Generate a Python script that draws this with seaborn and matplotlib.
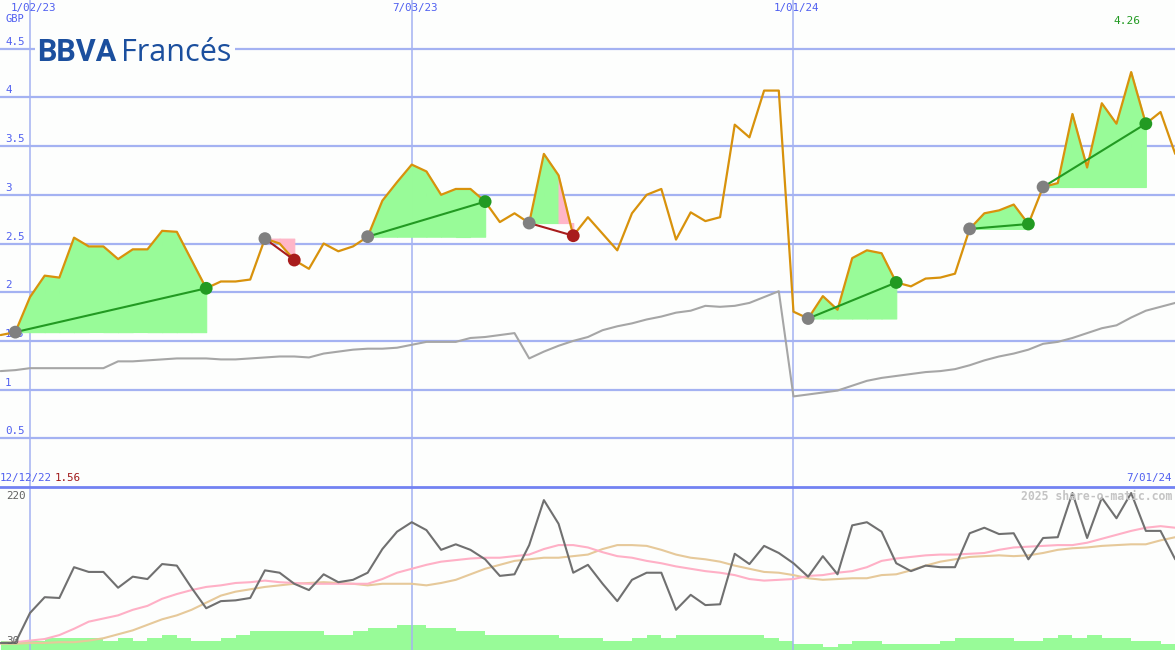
import numpy as np
import pandas as pd
import matplotlib
matplotlib.use("Agg")
import matplotlib.pyplot as plt
import matplotlib.transforms as mtransforms
from matplotlib.patches import Rectangle
import seaborn as sns

# DATA (weekly)

dates = pd.date_range("2022-12-19", periods=81, freq="7D")

price = [1.56, 1.59, 1.95, 2.17, 2.15, 2.56, 2.47, 2.47, 2.34, 2.44,
         2.44, 2.63, 2.62, 2.33, 2.04, 2.11, 2.11, 2.13, 2.55, 2.50,
         2.33, 2.24, 2.50, 2.42, 2.47, 2.57, 2.94, 3.13, 3.31, 3.24,
         3.00, 3.06, 3.06, 2.93, 2.72, 2.81, 2.71, 3.42, 3.20, 2.58,
         2.77, 2.60, 2.43, 2.81, 3.00, 3.06, 2.54, 2.82, 2.73, 2.77,
         3.72, 3.59, 4.07, 4.07, 1.80, 1.73, 1.96, 1.82, 2.35, 2.43,
         2.40, 2.10, 2.06, 2.14, 2.15, 2.19, 2.65, 2.81, 2.84, 2.90,
         2.70, 3.08, 3.12, 3.83, 3.28, 3.94, 3.73, 4.26, 3.73, 3.85,
         3.42]

index_line = [1.19, 1.20, 1.22, 1.22, 1.22, 1.22, 1.22, 1.22, 1.29, 1.29,
              1.30, 1.31, 1.32, 1.32, 1.32, 1.31, 1.31, 1.32, 1.33, 1.34,
              1.34, 1.33, 1.37, 1.39, 1.41, 1.42, 1.42, 1.43, 1.46, 1.49,
              1.49, 1.49, 1.53, 1.54, 1.56, 1.58, 1.32, 1.39, 1.45, 1.50,
              1.54, 1.61, 1.65, 1.68, 1.72, 1.75, 1.79, 1.81, 1.86, 1.85,
              1.86, 1.89, 1.95, 2.01, 0.93, 0.95, 0.97, 0.99, 1.04, 1.09,
              1.12, 1.14, 1.16, 1.18, 1.19, 1.21, 1.25, 1.30, 1.34, 1.37,
              1.41, 1.47, 1.49, 1.53, 1.58, 1.63, 1.66, 1.74, 1.81, 1.85,
              1.89]

# trades: (entry week, exit week)
trade_entry = [1, 18, 25, 36, 55, 66, 71]
trade_exit = [14, 20, 33, 39, 61, 70, 78]

osc = [30, 30, 68, 88, 87, 126, 120, 120, 100, 114,
       111, 130, 128, 100, 74, 83, 84, 87, 122, 119,
       105, 97, 117, 107, 110, 119, 149, 171, 183, 173,
       148, 155, 148, 136, 115, 117, 154, 211, 181, 119,
       129, 105, 83, 110, 119, 119, 72, 91, 78, 79,
       143, 130, 153, 144, 131, 114, 140, 117, 179, 183,
       171, 131, 121, 128, 126, 126, 169, 176, 168, 169,
       136, 163, 164, 220, 163, 214, 188, 220, 172, 172,
       136]

ma_fast = [30, 31, 33, 35, 40, 48, 57, 61, 65, 72,
           77, 86, 92, 97, 101, 103, 106, 107, 109, 107,
           106, 105, 105, 105, 105, 105, 111, 119, 124, 129,
           133, 135, 137, 138, 138, 140, 142, 149, 154, 154,
           151, 145, 140, 138, 134, 131, 127, 124, 121, 119,
           116, 111, 109, 110, 111, 115, 116, 119, 121, 126,
           134, 137, 139, 141, 142, 142, 143, 144, 148, 151,
           152, 153, 154, 154, 157, 162, 167, 172, 176, 178,
           176]

ma_slow = [29, 29, 30, 30, 31, 31, 33, 36, 41, 46,
           53, 60, 65, 72, 81, 90, 95, 98, 101, 103,
           105, 106, 107, 106, 105, 103, 105, 105, 105, 103,
           106, 110, 117, 124, 129, 134, 136, 138, 138, 140,
           142, 149, 154, 154, 153, 148, 142, 138, 136, 133,
           128, 124, 120, 119, 116, 112, 110, 111, 112, 112,
           116, 117, 122, 128, 133, 136, 139, 140, 141, 140,
           141, 144, 148, 150, 151, 153, 154, 155, 155, 160,
           164]

volume = [9, 9, 9, 12, 12, 12, 12, 9, 12, 9,
          12, 15, 12, 9, 9, 12, 15, 19, 19, 19,
          19, 19, 15, 15, 19, 22, 22, 25, 25, 22,
          22, 19, 19, 15, 15, 15, 15, 15, 12, 12,
          12, 9, 9, 12, 15, 12, 15, 15, 15, 15,
          15, 15, 12, 9, 6, 6, 3, 6, 9, 9,
          6, 6, 6, 6, 9, 12, 12, 12, 12, 9,
          9, 12, 15, 12, 15, 12, 12, 9, 9, 6,
          6]

grid_dates = pd.to_datetime(["2023-01-02", "2023-07-03", "2024-01-01"])
grid_labels = ["1/02/23", "7/03/23", "1/01/24"]
price_ticks = [0.5, 1, 1.5, 2, 2.5, 3, 3.5, 4, 4.5]

# STYLE

W, H = 1175, 650
GRID = "#a4b2f2"
LABEL = "#4f5ff0"
ORANGE = "#d8920c"
PALEGREEN = "#98fb98"
PINK = "#ffb6c8"
GREEN = "#229a22"
RED = "#a81c1c"
BG = "#fdfefd"
MONO = "DejaVu Sans Mono"

sns.set_style("white")
fig = plt.figure(figsize=(W / 100, H / 100), dpi=100, facecolor=BG)
ax = fig.add_axes([0, 163 / H, 1, 487 / H], facecolor=BG)
axl = fig.add_axes([0, 0, 1, 163 / H], facecolor=BG)

x0 = pd.Timestamp("2023-01-02") - pd.Timedelta(days=14.3)
x1 = pd.Timestamp("2023-01-02") + pd.Timedelta(days=545.9)

# UPPER PANEL

sns.lineplot(x=dates, y=index_line, ax=ax, color="#a6a6a6", lw=1.5, zorder=3)

for e, x in zip(trade_entry, trade_exit):
    base = price[e]
    for k in range(e, x):
        col = PALEGREEN if price[k + 1] >= base else PINK
        ax.fill_between(dates[k:k + 2], base, price[k:k + 2], facecolor=col,
                        edgecolor=col, lw=0.8, zorder=2)

sns.lineplot(x=dates, y=price, ax=ax, color=ORANGE, lw=1.6, zorder=4)

for e, x in zip(trade_entry, trade_exit):
    win = price[x] >= price[e]
    col = GREEN if win else RED
    ax.plot([dates[e], dates[x]], [price[e], price[x]], color=col, lw=1.5, zorder=5)
    sns.scatterplot(x=[dates[e]], y=[price[e]], ax=ax, color="#808080", s=85,
                    edgecolor="none", zorder=6)
    sns.scatterplot(x=[dates[x]], y=[price[x]], ax=ax, color=col, s=85,
                    edgecolor="none", zorder=6)

ax.set_xlim(x0, x1)
ax.set_ylim(0, 5.0)
ax.set_xticks(grid_dates)
ax.set_yticks(price_ticks)
ax.grid(axis="y", color=GRID, lw=1.6, zorder=0)
ax.grid(axis="x", color=GRID, lw=1.1, zorder=0)
ax.tick_params(length=0, labelleft=False, labelbottom=False)
ax.set_xlabel("")
ax.set_ylabel("")
for s in ax.spines.values():
    s.set_visible(False)

tr = mtransforms.blended_transform_factory(ax.transAxes, ax.transData)
for v in price_ticks:
    lab = ("%g" % v)
    ax.text(5 / W, v + 0.02, lab, transform=tr, ha="left", va="bottom",
            color=LABEL, fontsize=7.8, family=MONO, zorder=1)

trx = mtransforms.blended_transform_factory(ax.transData, ax.transAxes)
for d, lab in zip(grid_dates, grid_labels):
    ax.text(d + pd.Timedelta(days=1.5), 1 - 8 / 487, lab, transform=trx, ha="center",
            va="center", color=LABEL, fontsize=7.8, family=MONO)
fig.text(5 / W, 1 - 19 / H, "GBP", ha="left", va="center", color=LABEL,
         fontsize=7.5, family=MONO)
fig.text(1113 / W, 1 - 21 / H, "%.2f" % max(price), ha="left", va="center",
         color="#229a22", fontsize=8, family=MONO)

# logo
ax.add_patch(Rectangle((35 / W, 1 - 68 / H), 200 / W, 36 / H, transform=fig.transFigure,
                       facecolor=BG, edgecolor="none", zorder=7))
fig.text(37 / W, 1 - 61 / H, "BBVA", ha="left", va="baseline", color="#1b4f9e",
         fontsize=22, family="Roboto", weight="bold", zorder=8)
fig.text(121 / W, 1 - 61 / H, "Francés", ha="left", va="baseline", color="#1b4f9e",
         fontsize=22, family="Open Sans", weight="normal", zorder=8)

# LOWER PANEL

axv = axl.twinx()
axv.bar(dates, volume, width=7, align="edge", color=PALEGREEN, lw=0)
axv.set_ylim(0, 163)
axv.set_axis_off()

axl.set_zorder(axv.get_zorder() + 1)
axl.patch.set_visible(False)
sns.lineplot(x=dates, y=ma_slow, ax=axl, color="#e6c99a", lw=1.5)
sns.lineplot(x=dates, y=ma_fast, ax=axl, color="#ffb0c6", lw=1.5)
sns.lineplot(x=dates, y=osc, ax=axl, color="#707070", lw=1.5)

axl.set_xlim(x0, x1)
axv.set_xlim(x0, x1)
axl.set_ylim(21.1, 227.6)
axl.set_xticks(grid_dates)
axl.set_yticks([])
axl.grid(axis="x", color=GRID, lw=1.1)
axl.tick_params(length=0, labelleft=False, labelbottom=False)
axl.set_xlabel("")
axl.set_ylabel("")
for k, s in axl.spines.items():
    s.set_visible(k == "top")
axl.spines["top"].set_color("#7282f2")
axl.spines["top"].set_linewidth(2)

fig.text(0 / W, 1 - 478 / H, "12/12/22", ha="left", va="center", color=LABEL,
         fontsize=7.8, family=MONO)
fig.text(55 / W, 1 - 478 / H, "%.2f" % min(price), ha="left", va="center",
         color="#a01818", fontsize=7.8, family=MONO)
fig.text(1172 / W, 1 - 478 / H, "7/01/24", ha="right", va="center", color=LABEL,
         fontsize=7.8, family=MONO)
fig.text(6 / W, 1 - 496 / H, str(max(osc)), ha="left", va="center", color="#606060",
         fontsize=7.8, family=MONO)
fig.text(6 / W, 1 - 641 / H, str(min(osc)), ha="left", va="center", color="#606060",
         fontsize=7.8, family=MONO)
fig.text(1172 / W, 1 - 496 / H, "2025 share-o-matic.com", ha="right", va="center",
         color="#c4c4c4", fontsize=8.3, family=MONO, weight="bold")

fig.savefig("out.png", dpi=100, facecolor=BG)
